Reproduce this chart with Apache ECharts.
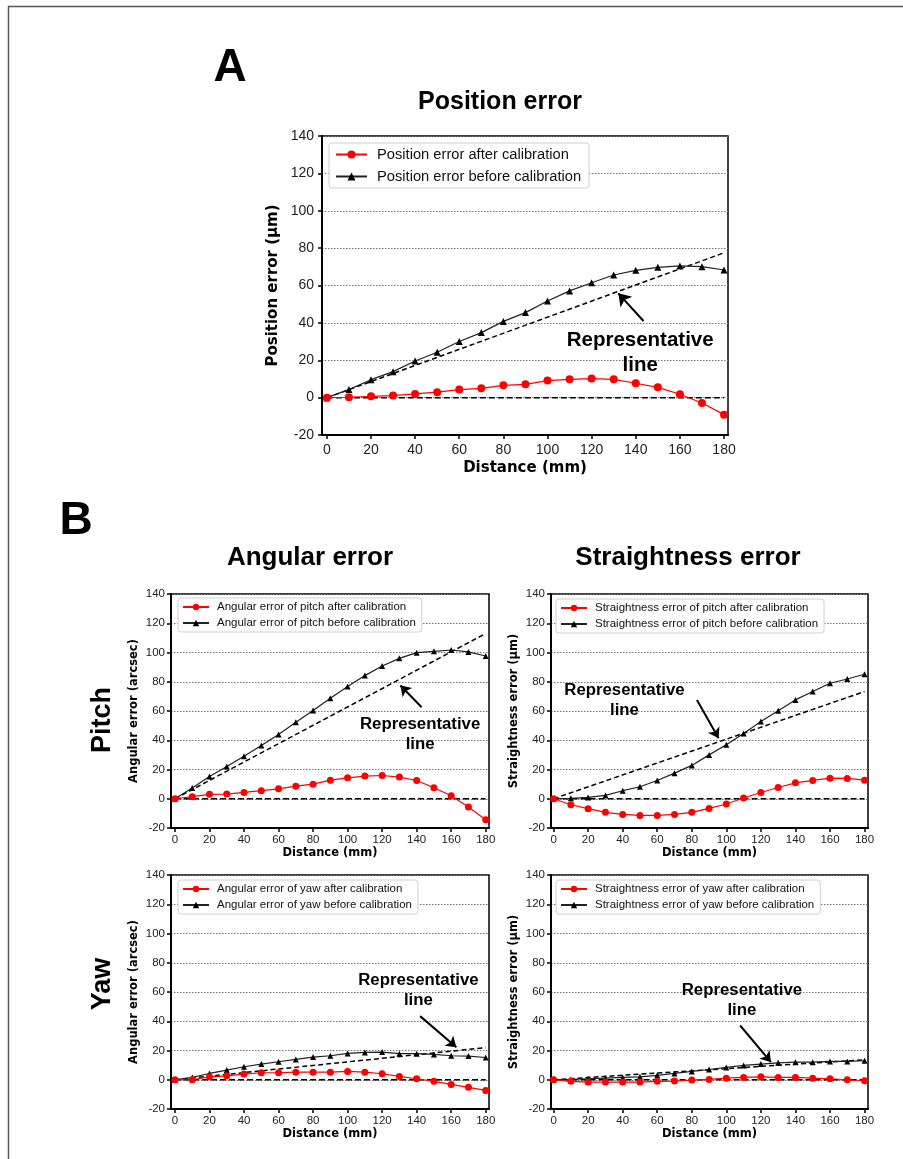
<!DOCTYPE html>
<html>
<head>
<meta charset="utf-8">
<script src="https://cdn.jsdelivr.net/npm/echarts@6/dist/echarts.min.js"></script>
<style>
  html, body { margin: 0; padding: 0; background: #fff; }
  #chart { width: 903px; height: 1159px; }
</style>
</head>
<body>
<div id="chart"></div>
<script>
// distance along the stage (mm)
const distance = [0, 10, 20, 30, 40, 50, 60, 70, 80, 90, 100, 110, 120, 130, 140, 150, 160, 170, 180];
const xTicks = [0, 20, 40, 60, 80, 100, 120, 140, 160, 180];

// A: position error (um)
const posAfter  = [0, 0.2, 0.7, 1.1, 2, 2.9, 4.3, 5, 6.6, 7.1, 9.1, 9.8, 10.2, 9.8, 7.7, 5.5, 1.8, -2.9, -9.1];
const posBefore = [0, 4.3, 9.6, 13.9, 19.6, 24.3, 30, 34.8, 40.8, 45.5, 51.7, 57.1, 61.5, 65.6, 68.1, 69.7, 70.5, 70.1, 68.3];
const posRep = 77.5;

// B: angular error of pitch (arcsec)
const pitchAngAfter  = [0, 1.4, 3, 3.2, 4.3, 5.5, 6.8, 8.6, 10, 12.7, 14.3, 15.5, 15.9, 14.8, 12.5, 7.5, 2, -5.7, -14.3];
const pitchAngBefore = [0, 7.3, 15.2, 22, 29, 36.4, 43.9, 52.3, 60.3, 68.7, 76.7, 84.2, 90.8, 96, 99.9, 100.8, 101.7, 100.4, 97.6];
const pitchAngRep = 113;

// B: straightness error of pitch (um)
const pitchStrAfter  = [0, -4.1, -6.8, -9.3, -10.7, -11.4, -11.4, -10.7, -9.3, -6.6, -3.6, 0.5, 4.3, 7.7, 10.9, 12.5, 14.1, 13.9, 12.7];
const pitchStrBefore = [0, 0.3, 0.9, 2.3, 5.5, 8.2, 12.5, 17.5, 22.8, 30, 36.9, 44.6, 52.8, 60.1, 67.6, 73.3, 79, 81.9, 85.1];
const pitchStrRep = 73.3;

// B: angular error of yaw (arcsec)
const yawAngAfter  = [0, 0, 2, 2.7, 3.9, 4.8, 4.8, 5.2, 5.2, 5.2, 5.7, 5.2, 4.1, 2.3, 0.7, -1.1, -3.2, -5.2, -7.3];
const yawAngBefore = [0, 1.6, 4.3, 6.6, 8.9, 10.7, 12.3, 13.9, 15.5, 16.4, 18, 18.7, 18.9, 17.8, 17.8, 17.3, 16.4, 16.2, 15.2];
const yawAngRep = 22;

// B: straightness error of yaw (um)
const yawStrAfter  = [0, -1.1, -1.6, -1.6, -1.6, -1.6, -1.1, -0.9, -0.2, 0.2, 1.1, 1.6, 2, 1.6, 1.6, 1.1, 0.7, 0, -0.7];
const yawStrBefore = [0, 0.2, 0.7, 1.1, 1.6, 2, 3, 4.3, 5.7, 7, 8.4, 9.8, 10.7, 11.6, 12, 12, 12.5, 12.5, 13];
const yawStrRep = 13.7;

// "Representative line" annotation: text centre and arrow [tail, tip]
const posNote      = { text: [142, 24],   arrow: [[143.5, 41], [132.1, 55.8]] };
const pitchAngNote = { text: [142, 44],   arrow: [[142.9, 62.6], [130.6, 77.4]] };
const pitchStrNote = { text: [41, 67.3],  arrow: [[83, 67.6], [95.5, 41.4]] };
const yawAngNote   = { text: [141, 61],   arrow: [[142, 43.5], [163, 22.3]] };
const yawStrNote   = { text: [109, 54],   arrow: [[108, 37.1], [125.8, 12.1]] };

const SANS = "'Liberation Sans', Arial, sans-serif";
const HEAVY = "'DejaVu Sans', sans-serif";

const pair = (ys) => distance.map((d, i) => [d, ys[i]]);

const panels = [
  { grid: { left: 322, top: 136, width: 406, height: 299 }, xMin: -2.2, xMax: 181.8, big: true,
    yName: 'Position error (μm)', after: posAfter, before: posBefore, rep: posRep, note: posNote,
    afterName: 'Position error after calibration', beforeName: 'Position error before calibration',
    legend: { left: 329, top: 143 } },
  { grid: { left: 171, top: 594, width: 318, height: 234 }, xMin: -2.3, xMax: 181.9,
    yName: 'Angular error (arcsec)', after: pitchAngAfter, before: pitchAngBefore, rep: pitchAngRep, note: pitchAngNote,
    afterName: 'Angular error of pitch after calibration', beforeName: 'Angular error of pitch before calibration',
    legend: { left: 178, top: 598 } },
  { grid: { left: 551, top: 594, width: 317, height: 234 }, xMin: -1.5, xMax: 182,
    yName: 'Straightness error (μm)', after: pitchStrAfter, before: pitchStrBefore, rep: pitchStrRep, note: pitchStrNote,
    afterName: 'Straightness error of pitch after calibration', beforeName: 'Straightness error of pitch before calibration',
    legend: { left: 556, top: 599 } },
  { grid: { left: 171, top: 875, width: 318, height: 234 }, xMin: -2.3, xMax: 181.9,
    yName: 'Angular error (arcsec)', after: yawAngAfter, before: yawAngBefore, rep: yawAngRep, note: yawAngNote,
    afterName: 'Angular error of yaw after calibration', beforeName: 'Angular error of yaw before calibration',
    legend: { left: 178, top: 880 } },
  { grid: { left: 551, top: 875, width: 317, height: 234 }, xMin: -1.5, xMax: 182,
    yName: 'Straightness error (μm)', after: yawStrAfter, before: yawStrBefore, rep: yawStrRep, note: yawStrNote,
    afterName: 'Straightness error of yaw after calibration', beforeName: 'Straightness error of yaw before calibration',
    legend: { left: 556, top: 880 } }
];

const grid = [], xAxis = [], yAxis = [], series = [], legend = [];

panels.forEach((p, i) => {
  const tick = p.big ? 14 : 11.5;
  const nameSize = p.big ? 15 : 11.5;
  const mark = p.big ? 7 : 6;

  grid.push(Object.assign({ show: true, borderColor: '#000', borderWidth: 1.5, backgroundColor: 'transparent' }, p.grid));

  xAxis.push({
    type: 'value', gridIndex: i, min: p.xMin, max: p.xMax,
    name: 'Distance (mm)', nameLocation: 'middle', nameGap: p.big ? 26 : 19,
    nameTextStyle: { fontFamily: HEAVY, fontWeight: 'bold', fontSize: nameSize, color: '#000' },
    axisLine: { show: true, onZero: false, lineStyle: { color: '#000', width: 2 } },
    axisTick: { show: true, length: 4, customValues: xTicks, lineStyle: { color: '#000', width: 1.5 } },
    axisLabel: { customValues: xTicks, fontFamily: SANS, fontSize: tick, color: '#222', margin: p.big ? 8 : 6 },
    splitLine: { show: false }
  });

  yAxis.push({
    type: 'value', gridIndex: i, min: -20, max: 140, interval: 20,
    name: p.yName, nameLocation: 'middle', nameGap: p.big ? 41 : 31,
    nameTextStyle: { fontFamily: HEAVY, fontWeight: 'bold', fontSize: nameSize, color: '#000' },
    axisLine: { show: true, onZero: false, lineStyle: { color: '#000', width: 2 } },
    axisTick: { show: true, length: 4, lineStyle: { color: '#000', width: 1.5 } },
    axisLabel: { fontFamily: SANS, fontSize: tick, color: '#222', margin: p.big ? 8 : 6 },
    splitLine: { show: true, lineStyle: { color: '#777', type: [1.5, 1.5], width: 1 } }
  });

  // zero reference
  series.push({
    type: 'line', xAxisIndex: i, yAxisIndex: i, data: [[0, 0], [180, 0]],
    symbol: 'none', silent: true, z: 2,
    lineStyle: { color: '#000', width: 1.5, type: [6, 3] }
  });

  // representative line, with its arrow and caption
  series.push({
    type: 'line', xAxisIndex: i, yAxisIndex: i, data: [[0, 0], [180, p.rep]],
    symbol: 'none', silent: true, z: 2,
    lineStyle: { color: '#000', width: 1.5, type: [5, 3] },
    markLine: {
      silent: true, symbol: ['none', 'arrow'], symbolSize: p.big ? 12 : 10,
      label: { show: false },
      lineStyle: { color: '#000', width: 2, type: 'solid' },
      data: [[{ coord: p.note.arrow[0] }, { coord: p.note.arrow[1] }]]
    },
    markPoint: {
      silent: true, symbol: 'circle', symbolSize: 1,
      itemStyle: { color: 'transparent' },
      label: {
        show: true, position: 'inside', formatter: 'Representative\nline',
        fontFamily: SANS, fontWeight: 'bold', fontSize: p.big ? 20.5 : 16.8,
        lineHeight: p.big ? 25 : 20, color: '#000', align: 'center'
      },
      data: [{ coord: p.note.text }]
    }
  });

  series.push({
    type: 'line', name: p.beforeName, xAxisIndex: i, yAxisIndex: i, data: pair(p.before),
    symbol: 'triangle', symbolSize: mark, z: 4,
    itemStyle: { color: '#000' }, lineStyle: { color: '#222', width: 1.2 }
  });

  series.push({
    type: 'line', name: p.afterName, xAxisIndex: i, yAxisIndex: i, data: pair(p.after),
    symbol: 'circle', symbolSize: mark + 1, z: 5,
    itemStyle: { color: '#f00' }, lineStyle: { color: '#f00', width: 1.2 }
  });

  legend.push({
    data: [p.afterName, p.beforeName], orient: 'vertical',
    left: p.legend.left, top: p.legend.top,
    itemWidth: p.big ? 31 : 26, itemHeight: p.big ? 10 : 8, itemGap: p.big ? 7 : 4,
    padding: p.big ? [4, 8, 4, 6] : [3, 6, 3, 4],
    borderColor: '#d0d0d0', borderWidth: 1, borderRadius: 3,
    backgroundColor: '#fff', selectedMode: false,
    textStyle: { fontFamily: SANS, fontSize: p.big ? 14.7 : 11.5, color: '#111', padding: [0, 0, 0, p.big ? 5 : 3] }
  });
});

const chart = echarts.init(document.getElementById('chart'), null, { renderer: 'canvas' });
chart.setOption({
  animation: false,
  backgroundColor: '#fff',
  grid, xAxis, yAxis, series, legend,
  graphic: [
    { type: 'rect', shape: { x: 8.5, y: 6.5, width: 1000, height: 1200 }, style: { fill: 'none', stroke: '#555', lineWidth: 1.5 }, silent: true },
    { type: 'text', x: 230, y: 45, style: { text: 'A', font: "bold 46px 'Liberation Sans', Arial", fill: '#000', align: 'center' } },
    { type: 'text', x: 500, y: 90, style: { text: 'Position error', font: "bold 25px 'Liberation Sans', Arial", fill: '#000', align: 'center' } },
    { type: 'text', x: 76, y: 498, style: { text: 'B', font: "bold 46px 'Liberation Sans', Arial", fill: '#000', align: 'center' } },
    { type: 'text', x: 310, y: 545, style: { text: 'Angular error', font: "bold 26px 'Liberation Sans', Arial", fill: '#000', align: 'center' } },
    { type: 'text', x: 688, y: 545, style: { text: 'Straightness error', font: "bold 26px 'Liberation Sans', Arial", fill: '#000', align: 'center' } },
    { type: 'text', x: 103, y: 720, rotation: Math.PI / 2, style: { text: 'Pitch', font: "bold 27px 'Liberation Sans', Arial", fill: '#000', align: 'center', verticalAlign: 'middle' } },
    { type: 'text', x: 103, y: 984, rotation: Math.PI / 2, style: { text: 'Yaw', font: "bold 27px 'Liberation Sans', Arial", fill: '#000', align: 'center', verticalAlign: 'middle' } }
  ]
});
</script>
</body>
</html>
